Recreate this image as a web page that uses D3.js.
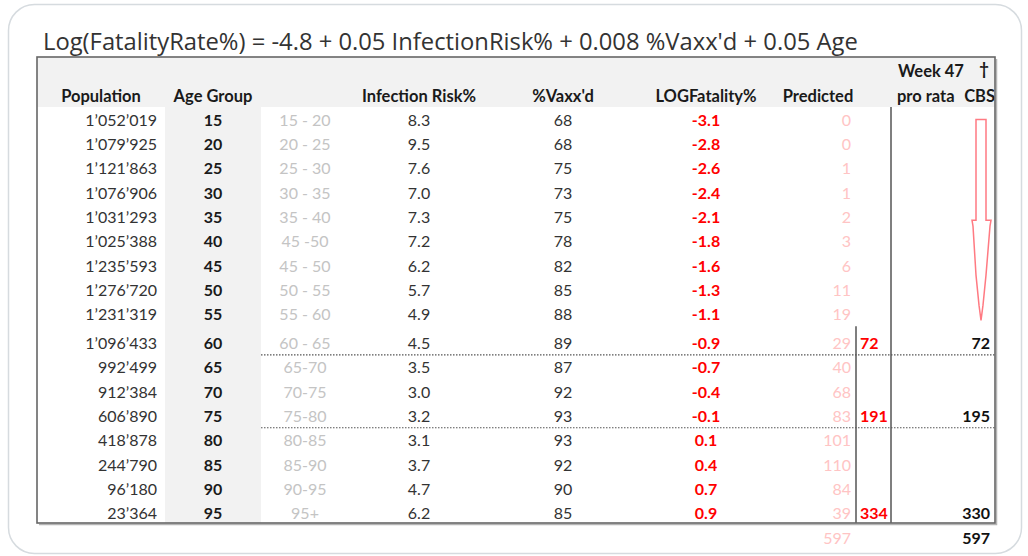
<!DOCTYPE html>
<html><head><meta charset="utf-8">
<script src="https://cdn.jsdelivr.net/npm/d3@7"></script>
<style>
html,body{margin:0;padding:0;background:#fff;}
svg{display:block;}
text{font-family:Lato,"Open Sans",sans-serif;}
</style></head>
<body>
<script>
// ---- data ----
const titleText = "Log(FatalityRate%) = -4.8 + 0.05 InfectionRisk% + 0.008 %Vaxx'd + 0.05 Age";
const population = ["1’052’019","1’079’925","1’121’863","1’076’906","1’031’293","1’025’388","1’235’593","1’276’720","1’231’319","1’096’433","992’499","912’384","606’890","418’878","244’790","96’180","23’364"];
const ageGroup = [15,20,25,30,35,40,45,50,55,60,65,70,75,80,85,90,95];
const ageRange = ["15 - 20","20 - 25","25 - 30","30 - 35","35 - 40","45 -50","45 - 50","50 - 55","55 - 60","60 - 65","65-70","70-75","75-80","80-85","85-90","90-95","95+"];
const infectionRisk = [8.3,9.5,7.6,7.0,7.3,7.2,6.2,5.7,4.9,4.5,3.5,3.0,3.2,3.1,3.7,4.7,6.2];
const vaxxed = [68,68,75,73,75,78,82,85,88,89,87,92,93,93,92,90,85];
const logFatality = [-3.1,-2.8,-2.6,-2.4,-2.1,-1.8,-1.6,-1.3,-1.1,-0.9,-0.7,-0.4,-0.1,0.1,0.4,0.7,0.9];
const predicted = [0,0,1,1,2,3,6,11,19,29,40,68,83,101,110,84,39];
const groupRows = [9,12,16];          // rows closing each week-47 group
const proRata = [72,191,334];
const cbs = [72,195,330];
const predictedTotal = 597;
const cbsTotal = 597;
const headers = [
  {key:"pop", label:"Population"},
  {key:"age", label:"Age Group"},
  {key:"inf", label:"Infection Risk%"},
  {key:"vax", label:"%Vaxx'd"},
  {key:"log", label:"LOGFatality%"},
  {key:"pred", label:"Predicted"}
];

// ---- layout ----
const W = 1028, H = 556;
const svg = d3.select("body").append("svg").attr("width", W).attr("height", H);

// card
svg.append("rect").attr("x",8.5).attr("y",4.5).attr("width",1013).attr("height",549)
  .attr("rx",26).attr("fill","#fff").attr("stroke","#d6dbdf").attr("stroke-width",1.5);

// title
const title = svg.append("text").attr("x",43).attr("y",50).attr("fill","#333")
  .style("font-family","'Open Sans','Noto Sans',sans-serif").style("font-size","20px").text(titleText);
{ const w = title.node().getComputedTextLength(); title.style("font-size", (20*815/w).toFixed(2)+"px"); }

const T = {x0:37, y0:57, x1:995, y1:523, headBottom:107};

// header background
svg.append("rect").attr("x",T.x0).attr("y",T.y0).attr("width",T.x1-T.x0).attr("height",T.headBottom-T.y0).attr("fill","#f2f2f2");

// columns
const colX = d3.scaleOrdinal()
  .domain(["pop","popH","age","range","inf","vax","log","pred","predH","pro","cbs","divA","divB","ageL","ageR"])
  .range([157,101,213,305,419,563,706,851,818,860,990,856,891,165,261]);

// rows
const yBand = d3.scaleBand().domain(d3.range(ageGroup.length)).range([107.8, 107.8+24.3*ageGroup.length]);
const rowY = i => yBand(i) + yBand.bandwidth()/2 + (i >= 9 ? 4.7 : 0);

// age column background
svg.append("rect").attr("x",colX("ageL")).attr("y",T.headBottom).attr("width",colX("ageR")-colX("ageL"))
  .attr("height",T.y1-T.headBottom).attr("fill","#f2f2f2");

const FS = 16;
const HFS = 16.5;
const dy = "0.36em";

// headers
const hx = {pop:colX("popH"), age:colX("age"), inf:colX("inf"), vax:colX("vax"), log:colX("log"), pred:colX("predH")};
svg.append("g").selectAll("text").data(headers).join("text")
  .attr("x", d => hx[d.key]).attr("y", 96).attr("dy", dy).attr("text-anchor","middle")
  .attr("font-weight","bold").attr("font-size",HFS).attr("fill","#1a1a1a").text(d => d.label);
svg.append("text").attr("x",898).attr("y",71).attr("dy",dy).attr("font-weight","bold").attr("font-size",HFS).attr("fill","#1a1a1a").text("Week 47");
svg.append("text").attr("x",984).attr("y",69).attr("dy",dy).attr("text-anchor","middle").attr("font-weight","bold").attr("font-size",HFS).attr("fill","#1a1a1a").text("†");
svg.append("text").attr("x",897).attr("y",96).attr("dy",dy).attr("font-weight","bold").attr("font-size",HFS).attr("fill","#1a1a1a").text("pro rata");
svg.append("text").attr("x",995).attr("y",96).attr("dy",dy).attr("text-anchor","end").attr("font-weight","bold").attr("font-size",HFS).attr("fill","#1a1a1a").text("CBS");

// body columns
function col(values, xKey, anchor, opts) {
  svg.append("g").selectAll("text").data(values).join("text")
    .attr("x", colX(xKey)).attr("y", (d,i) => rowY(i)).attr("dy", dy)
    .attr("text-anchor", anchor).attr("font-size", FS)
    .attr("font-weight", opts.bold ? "bold" : "normal").attr("fill", opts.color)
    .text(opts.fmt ? opts.fmt : d => d);
}
col(population, "pop", "end", {color:"#333"});
col(ageGroup, "age", "middle", {color:"#1a1a1a", bold:true});
col(ageRange, "range", "middle", {color:"#c4c4c4"});
col(infectionRisk, "inf", "middle", {color:"#333", fmt:d3.format(".1f")});
col(vaxxed, "vax", "middle", {color:"#333"});
col(logFatality, "log", "middle", {color:"#ff0000", bold:true, fmt:d => d3.format(".1f")(d).replace("−","-")});
col(predicted, "pred", "end", {color:"#ffc4c4"});

// dotted group separators
const sepRows = groupRows.slice(0,2);
svg.append("g").selectAll("line").data(sepRows).join("line")
  .attr("x1", colX("ageR")).attr("x2", T.x1)
  .attr("y1", i => rowY(i)+11.5).attr("y2", i => rowY(i)+11.5)
  .attr("stroke","#555").attr("stroke-width",1.2).attr("stroke-dasharray","1.5,1.5");

// vertical dividers
svg.append("line").attr("x1",colX("divA")).attr("x2",colX("divA")).attr("y1",rowY(8)+12).attr("y2",T.y1)
  .attr("stroke","#555").attr("stroke-width",1.5);
svg.append("line").attr("x1",colX("divB")).attr("x2",colX("divB")).attr("y1",T.headBottom).attr("y2",T.y1)
  .attr("stroke","#555").attr("stroke-width",1.5);

// pro rata and CBS values
svg.append("g").selectAll("text").data(proRata).join("text")
  .attr("x", colX("pro")).attr("y",(d,i) => rowY(groupRows[i])).attr("dy",dy)
  .attr("font-size",FS).attr("font-weight","bold").attr("fill","#ff0000").text(d => d);
svg.append("g").selectAll("text").data(cbs).join("text")
  .attr("x", colX("cbs")).attr("y",(d,i) => rowY(groupRows[i])).attr("dy",dy).attr("text-anchor","end")
  .attr("font-size",FS).attr("font-weight","bold").attr("fill","#111").text(d => d);

// totals
const totalY = rowY(16) + 25;
svg.append("text").attr("x",colX("pred")).attr("y",totalY).attr("dy",dy).attr("text-anchor","end")
  .attr("font-size",FS).attr("fill","#ffc4c4").text(predictedTotal);
svg.append("text").attr("x",colX("cbs")).attr("y",totalY).attr("dy",dy).attr("text-anchor","end")
  .attr("font-size",FS).attr("font-weight","bold").attr("fill","#111").text(cbsTotal);

// arrow (from first row to group-1 row)
const ax = 981, aTop = rowY(0)-0.5, aNeck = rowY(4)+3, aTip = rowY(8)+6;
const arrow = [[ax-5,aTop],[ax+5,aTop],[ax+5,aNeck],[ax+10,aNeck],[ax+9,aNeck+6],[ax+5,aNeck+55],[ax+2,aNeck+85],[ax,aTip],
  [ax-2,aNeck+85],[ax-5,aNeck+55],[ax-8,aNeck+6],[ax-9,aNeck],[ax-5,aNeck]];
svg.append("path").attr("d", d3.line()(arrow)+"Z").attr("fill","none").attr("stroke","#ff7a82").attr("stroke-width",1.5);

// table border with shadow
svg.append("path").attr("d",`M${T.x1+1.5},${T.y0+2}V${T.y1+1.5}H${T.x0+2}`).attr("fill","none").attr("stroke","#b5b5b5").attr("stroke-width",1.5);
svg.append("rect").attr("x",T.x0).attr("y",T.y0).attr("width",T.x1-T.x0).attr("height",T.y1-T.y0)
  .attr("fill","none").attr("stroke","#666").attr("stroke-width",1.6);
</script>
</body></html>
